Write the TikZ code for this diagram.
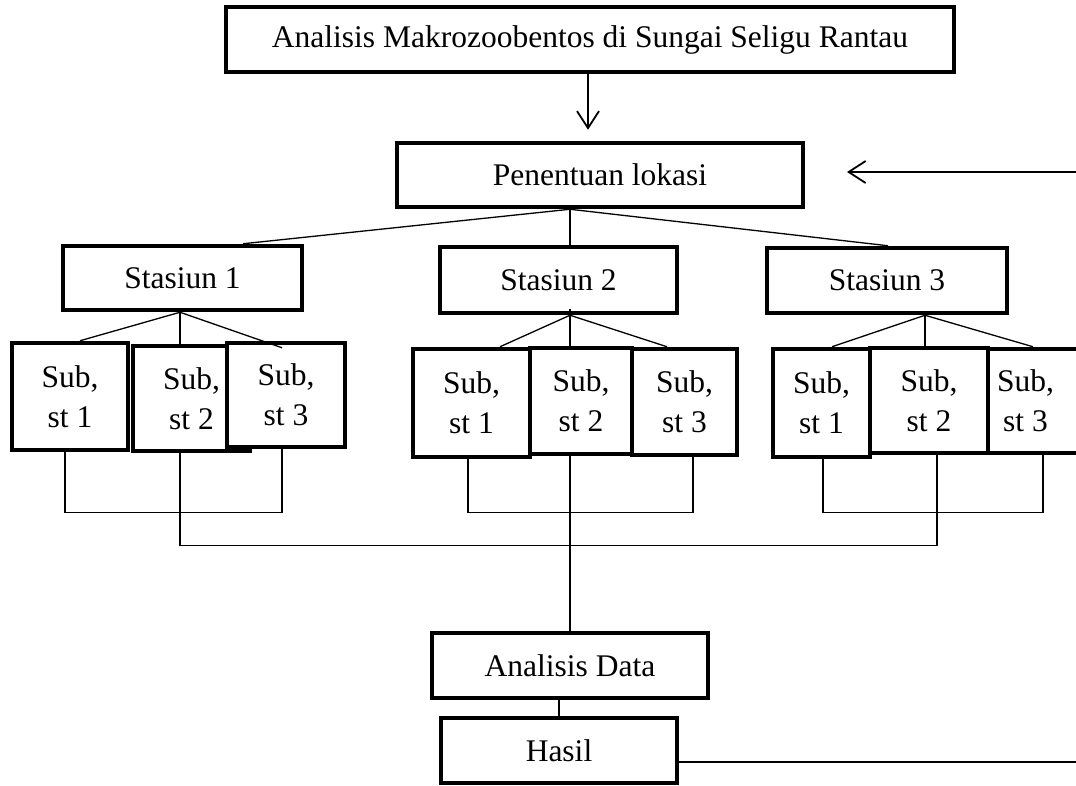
\documentclass[tikz,border=0pt]{standalone}
\usepackage{fontspec}
\setmainfont{Liberation Serif}
\usetikzlibrary{arrows.meta}

\begin{document}
\begin{tikzpicture}[x=1pt, y=-1pt,
                    kotak/.style={draw, fill=white, line width=4.5pt, inner sep=0pt, align=center,
                                  font=\fontsize{31.5}{40}\selectfont},
                    garis/.style={draw=black, line width=1.3pt},
                    panah/.style={draw=black, line width=1.8pt, -{Straight Barb[length=17pt,width=22pt]}}]
                    \useasboundingbox (0,0) rectangle (1076,785);
                    \clip (0,0) rectangle (1076,785);
                    \node[kotak, minimum width=728pt, minimum height=65pt] (judul) at (590,39.5) {Analisis Makrozoobentos di Sungai Seligu Rantau};
                    \node[kotak, minimum width=406pt, minimum height=64pt] (lokasi) at (600,175) {Penentuan lokasi};
                    \node[kotak, minimum width=239pt, minimum height=64pt] (st1) at (182.5,278) {Stasiun 1};
                    \node[kotak, minimum width=237pt, minimum height=66pt] (st2) at (558.5,280) {Stasiun 2};
                    \node[kotak, minimum width=240pt, minimum height=65pt] (st3) at (887,280.5) {Stasiun 3};
                    % sub stasiun 1
                    \node[kotak, minimum width=116pt, minimum height=107pt] (s1a) at (70,396.5) {Sub,\\st 1};
                    \node[kotak, minimum width=117pt, minimum height=105pt] (s1b) at (191.5,398.5) {Sub,\\st 2};
                    \node[kotak, minimum width=118pt, minimum height=104pt] (s1c) at (286,395) {Sub,\\st 3};
                    % sub stasiun 2
                    \node[kotak, minimum width=117pt, minimum height=108pt] (s2a) at (471.5,403) {Sub,\\st 1};
                    \node[kotak, minimum width=102pt, minimum height=106pt] (s2b) at (581,401) {Sub,\\st 2};
                    \node[kotak, minimum width=105pt, minimum height=106pt] (s2c) at (684.5,402) {Sub,\\st 3};
                    % sub stasiun 3
                    \node[kotak, minimum width=97pt, minimum height=108pt] (s3a) at (821.5,403) {Sub,\\st 1};
                    \node[kotak, minimum width=118pt, minimum height=105pt] (s3b) at (929,400.5) {Sub,\\st 2};
                    \node[kotak, minimum width=107pt, minimum height=104pt] (s3c) at (1041.5,401) {\hspace*{-32pt}Sub,\\\hspace*{-32pt}st 3};
                    \node[kotak, minimum width=276pt, minimum height=65pt] (data) at (570,665.5) {Analisis Data};
                    \node[kotak, minimum width=236pt, minimum height=65pt] (hasil) at (559,750.5) {Hasil};
                    \coordinate (kanan atas) at (1076,172);
                    \coordinate (ujung) at (847,172);
                    \coordinate (kanan bawah) at (1076,762);
                    \draw[panah] ([xshift=-2pt]judul.south) -- ([xshift=-12pt,yshift=11pt]lokasi.north);
                    \draw[garis] ([xshift=-30pt]lokasi.south) -- ([xshift=60.5pt]st1.north);
                    \draw[garis] ([xshift=-30pt]lokasi.south) -- ([xshift=11.5pt]st2.north);
                    \draw[garis] ([xshift=-30pt]lokasi.south) -- ([xshift=1pt]st3.north);
                    \draw[garis] ([xshift=-2.5pt]st1.south) -- ([xshift=10pt]s1a.north);
                    \draw[garis] ([xshift=-2.5pt]st1.south) -- ([xshift=-11.5pt]s1b.north);
                    \draw[garis] ([xshift=-2.5pt]st1.south) -- ([xshift=-4pt,yshift=-7pt]s1c.north);
                    \draw[garis] ([xshift=11.5pt]st2.south) -- ([xshift=28.5pt]s2a.north);
                    \draw[garis] ([xshift=11.5pt,yshift=6pt]st2.south) -- ([xshift=-11pt]s2b.north);
                    \draw[garis] ([xshift=11.5pt]st2.south) -- ([xshift=-17.5pt]s2c.north);
                    \draw[garis] ([xshift=38pt]st3.south) -- ([xshift=10.5pt]s3a.north);
                    \draw[garis] ([xshift=38pt]st3.south) -- ([xshift=-4pt]s3b.north);
                    \draw[garis] ([xshift=38pt]st3.south) -- ([xshift=-8.5pt]s3c.north);
                    \draw[garis] ([xshift=-5pt]s1a.south) -- ++(0,60) -| ([xshift=-4pt]s1c.south);
                    \draw[garis] ([xshift=-3.5pt]s2a.south) -- ++(0,53) -| ([xshift=8.5pt]s2c.south);
                    \draw[garis] ([xshift=1.5pt]s3a.south) -- ++(0,53) -| ([xshift=1.5pt]s3c.south);
                    \draw[garis] ([xshift=-11.5pt]s1b.south) -- ++(0,92) -| ([xshift=8pt]s3b.south);
                    \draw[garis] ([xshift=-11pt]s2b.south) -- (data.north);
                    \draw[garis] ([xshift=-11pt]data.south) -- (hasil.north);
                    \draw[garis] ([yshift=-11.5pt]hasil.east) -- (kanan bawah);
                    \draw[panah] (kanan atas) -- (ujung);
                \end{tikzpicture}
\end{document}
